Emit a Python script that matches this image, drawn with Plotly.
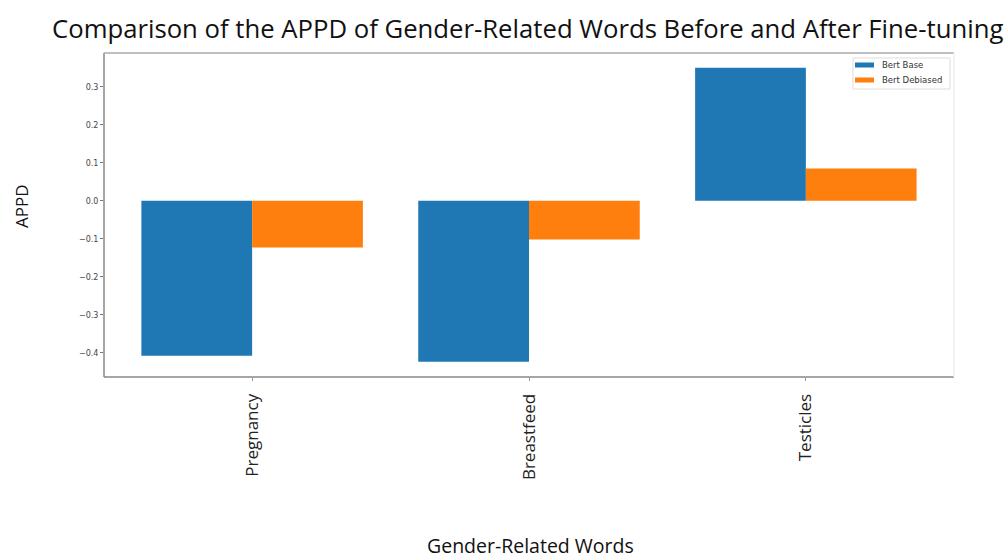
import plotly.graph_objects as go

# Gender-related words and their APPD scores for each model
words = ["Pregnancy", "Breastfeed", "Testicles"]
bert_base = [-0.408, -0.424, 0.350]
bert_debiased = [-0.123, -0.102, 0.085]
series_names = ["Bert Base", "Bert Debiased"]
y_ticks = [0.3, 0.2, 0.1, 0.0, -0.1, -0.2, -0.3, -0.4]
y_tick_text = ["0.3", "0.2", "0.1", "0.0", "\u22120.1", "\u22120.2", "\u22120.3", "\u22120.4"]

BLUE = "#1f77b4"
ORANGE = "#ff7f0e"
W, H = 1008, 558
ML, MR, MT, MB = 104, 54, 53, 181
PW, PH = W - ML - MR, H - MT - MB


def fx(px):
    """page pixel x -> paper fraction"""
    return (px - ML) / PW


def fy(py):
    """page pixel y -> paper fraction"""
    return 1 - (py - MT) / PH


fig = go.Figure()
fig.add_trace(go.Bar(x=words, y=bert_base, name=series_names[0],
                     marker=dict(color=BLUE, line=dict(width=0))))
fig.add_trace(go.Bar(x=words, y=bert_debiased, name=series_names[1],
                     marker=dict(color=ORANGE, line=dict(width=0))))

shapes = [
    # plot frame: left, bottom, top darker; right edge faint
    dict(type="line", xref="paper", yref="paper", x0=0, x1=0, y0=0, y1=1,
         line=dict(color="#888888", width=1.5)),
    dict(type="line", xref="paper", yref="paper", x0=0, x1=1, y0=0, y1=0,
         line=dict(color="#888888", width=1.5)),
    dict(type="line", xref="paper", yref="paper", x0=0, x1=1, y0=1, y1=1,
         line=dict(color="#aaaaaa", width=1.5)),
    dict(type="line", xref="paper", yref="paper", x0=1, x1=1, y0=0, y1=1,
         line=dict(color="#eeeeee", width=1.5)),
    # legend box
    dict(type="rect", xref="paper", yref="paper",
         x0=fx(853), x1=fx(950), y0=fy(89), y1=fy(58),
         line=dict(color="#dddddd", width=1), fillcolor="rgba(255,255,255,0.9)"),
]

annotations = [
    dict(text="Comparison of the APPD of Gender-Related Words Before and After Fine-tuning",
         xref="paper", yref="paper", x=fx(527), y=fy(28),
         xanchor="center", yanchor="middle", showarrow=False,
         font=dict(family="Open Sans", size=25.7, color="#111111")),
    dict(text="APPD", xref="paper", yref="paper", x=fx(21), y=fy(206),
         xanchor="center", yanchor="middle", textangle=-90, showarrow=False,
         font=dict(family="Open Sans", size=17, color="#111111")),
    dict(text="Gender-Related Words", xref="paper", yref="paper", x=fx(530), y=fy(545),
         xanchor="center", yanchor="middle", showarrow=False,
         font=dict(family="Open Sans", size=19.5, color="#111111")),
]

# hand-drawn legend entries with wide rectangular swatches
for i, (name, color) in enumerate(zip(series_names, [BLUE, ORANGE])):
    cy = 65 + i * 15
    shapes.append(dict(type="rect", xref="paper", yref="paper",
                       x0=fx(855), x1=fx(874), y0=fy(cy + 2.5), y1=fy(cy - 2.5),
                       line=dict(width=0), fillcolor=color))
    annotations.append(dict(text=name, xref="paper", yref="paper",
                            x=fx(880), y=fy(cy), xanchor="left", yanchor="middle",
                            showarrow=False,
                            font=dict(family="DejaVu Sans", size=8.5, color="#333333")))

fig.update_layout(
    width=W, height=H,
    margin=dict(l=ML, r=MR, t=MT, b=MB),
    paper_bgcolor="white", plot_bgcolor="white",
    barmode="group", bargap=0.2, bargroupgap=0,
    showlegend=False,
    xaxis=dict(
        range=[-0.535, 2.535], showgrid=False, zeroline=False,
        ticks="outside", ticklen=3, tickcolor="#999999",
        tickangle=-90, ticklabelstandoff=6,
        tickfont=dict(family="Open Sans", size=17, color="#222222"),
        showline=False,
    ),
    yaxis=dict(
        range=[-0.464, 0.389], showgrid=False, zeroline=False,
        tickvals=y_ticks, ticktext=y_tick_text,
        ticks="outside", ticklen=3, tickcolor="#777777",
        tickfont=dict(family="DejaVu Sans", size=8, color="#444444"),
        showline=False,
    ),
    shapes=shapes,
    annotations=annotations,
)

fig.write_html("out.html")
